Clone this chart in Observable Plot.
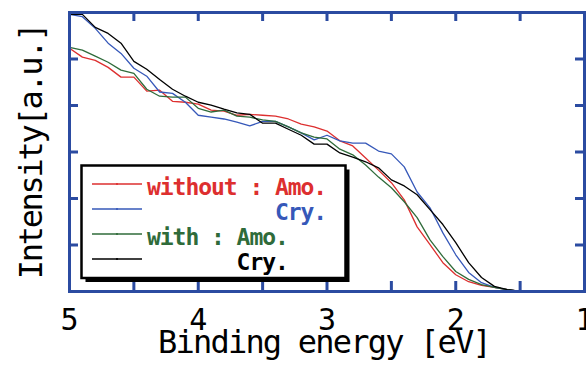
<!DOCTYPE html>
<html>
<head>
<meta charset="utf-8">
<script src="https://cdn.jsdelivr.net/npm/d3@7"></script>
<script src="https://cdn.jsdelivr.net/npm/@observablehq/plot@0.6"></script>
<style>
html, body { margin: 0; padding: 0; background: #fff; }
#wrap { position: relative; width: 586px; height: 365px; overflow: hidden; }
#wrap svg.overlay { position: absolute; left: 0; top: 0; pointer-events: none; }
</style>
</head>
<body>
<div id="wrap"></div>
<script>
// Binding energy grid [eV]
const energy = [5.0, 4.9, 4.8, 4.7, 4.6, 4.5, 4.4, 4.3, 4.2, 4.1,
                4.0, 3.9, 3.8, 3.7, 3.6, 3.5, 3.4, 3.3, 3.2, 3.1,
                3.0, 2.9, 2.8, 2.7, 2.6, 2.5, 2.4, 2.3, 2.2, 2.1,
                2.0, 1.9, 1.8, 1.7, 1.6, 1.5, 1.4, 1.3, 1.2, 1.1, 1.0];

// Intensity [a.u.]
const withoutAmo = [5.23, 5.04, 4.97, 4.82, 4.61, 4.61, 4.31, 4.33, 4.09, 4.07,
                    4.03, 3.90, 3.88, 3.79, 3.81, 3.79, 3.77, 3.71, 3.60, 3.54,
                    3.45, 3.24, 3.13, 2.87, 2.61, 2.34, 1.97, 1.39, 1.01, 0.62,
                    0.36, 0.21, 0.13, 0.09, 0.04, 0, 0, 0, 0, 0, 0];
const withoutCry = [5.96, 5.91, 5.66, 5.34, 5.12, 4.80, 4.63, 4.29, 4.26, 4.07,
                    3.79, 3.75, 3.71, 3.64, 3.56, 3.66, 3.66, 3.54, 3.41, 3.26,
                    3.36, 3.24, 3.19, 3.19, 3.02, 2.96, 2.68, 2.14, 1.80, 1.26,
                    0.79, 0.41, 0.19, 0.09, 0.04, 0, 0, 0, 0, 0, 0];
const withAmo    = [5.25, 5.19, 5.06, 4.93, 4.76, 4.69, 4.35, 4.20, 4.18, 4.18,
                    3.94, 3.86, 3.90, 3.77, 3.75, 3.69, 3.66, 3.54, 3.41, 3.32,
                    3.28, 3.06, 2.94, 2.72, 2.46, 2.23, 1.93, 1.59, 1.11, 0.75,
                    0.43, 0.26, 0.15, 0.09, 0.04, 0, 0, 0, 0, 0, 0];
const withCry    = [5.96, 5.96, 5.68, 5.55, 5.34, 4.95, 4.78, 4.56, 4.35, 4.20,
                    4.07, 4.01, 3.92, 3.84, 3.81, 3.62, 3.62, 3.49, 3.36, 3.17,
                    3.17, 2.98, 2.89, 2.79, 2.66, 2.40, 2.27, 2.08, 1.76, 1.44,
                    1.05, 0.62, 0.30, 0.11, 0.04, 0, 0, 0, 0, 0, 0];

const seriesNames = ["without : Amo.", "without : Cry.", "with : Amo.", "with : Cry."];
const seriesValues = [withoutAmo, withoutCry, withAmo, withCry];
const seriesColors = ["#dd2f2f", "#3658b9", "#2f6b3a", "#000000"];

// legend text lines (monospaced, aligned with spaces)
const legendLabels = ["without : Amo.", "          Cry.", "with : Amo.", "       Cry."];

// tick labels
const xTickLabels = [5, 4, 3, 2, 1];
const xMinorTicks = [5, 4.5, 4, 3.5, 3, 2.5, 2, 1.5, 1];
const yTicks = [1, 2, 3, 4, 5];

const xTitle = "Binding energy [eV]";
const yTitle = "Intensity[a.u.]";

const frameBlue = "#2b4ba1";
const W = 586, H = 365, mL = 69, mR = 2, mT = 12, mB = 74;

const rows = [];
seriesNames.forEach((name, si) => {
  energy.forEach((e, i) => rows.push({energy: e, intensity: seriesValues[si][i], series: name}));
});

const plot = Plot.plot({
  width: W,
  height: H,
  marginLeft: mL,
  marginRight: mR,
  marginTop: mT,
  marginBottom: mB,
  style: {fontFamily: "'DejaVu Sans Mono', monospace", background: "white", color: "black", overflow: "hidden"},
  x: {domain: [5, 1]},
  y: {domain: [0, 6]},
  color: {domain: seriesNames, range: seriesColors},
  marks: [
    Plot.line(rows, {x: "energy", y: "intensity", z: "series", stroke: "series", strokeWidth: 1.3}),
    Plot.frame({stroke: frameBlue, strokeWidth: 3}),
    // inward ticks on left and right
    Plot.axisY({anchor: "left", ticks: yTicks, tickSize: -9, tickFormat: () => "", stroke: frameBlue, strokeWidth: 3, label: null}),
    Plot.axisY({anchor: "right", ticks: yTicks, tickSize: -10, tickFormat: () => "", stroke: frameBlue, strokeWidth: 3, label: null}),
    // tick labels and titles
    Plot.axisX({anchor: "bottom", ticks: xTickLabels, tickSize: 0, tickPadding: 38, lineAnchor: "bottom", fontSize: 30, tickFormat: d => String(d), label: null}),
    Plot.text([xTitle], {frameAnchor: "bottom", textAnchor: "middle", dy: 61, dx: -3, lineAnchor: "bottom", fontSize: 32, fill: "black"}),
    Plot.text([yTitle], {frameAnchor: "left", textAnchor: "middle", dx: -28, rotate: -90, lineAnchor: "bottom", fontSize: 32, fill: "black"})
  ]
});

// condense the monospaced titles a little
d3.select(plot).selectAll("text").each(function () {
  if (this.textContent === xTitle) d3.select(this).style("letter-spacing", "-1.8px");
  if (this.textContent === yTitle) d3.select(this).style("letter-spacing", "-2.3px");
});

const wrap = document.getElementById("wrap");
wrap.appendChild(plot);

// Overlay: inward x ticks (positioned with Plot's own x/y scales) and the legend box
const ov = d3.select(wrap).append("svg")
  .attr("class", "overlay")
  .attr("width", W).attr("height", H);

const xs = plot.scale("x");
const ys = plot.scale("y");
const yTop = ys.apply(6), yBot = ys.apply(0);
xMinorTicks.forEach(v => {
  const px = xs.apply(v) + 0.5;
  ov.append("line").attr("x1", px).attr("x2", px).attr("y1", yTop).attr("y2", yTop + 9)
    .attr("stroke", frameBlue).attr("stroke-width", 3);
  ov.append("line").attr("x1", px).attr("x2", px).attr("y1", yBot - 10).attr("y2", yBot)
    .attr("stroke", frameBlue).attr("stroke-width", 3);
});

const box = {x: 81.5, y: 165.5, w: 264, h: 112.5, shadow: 4};
ov.append("rect").attr("x", box.x + box.shadow).attr("y", box.y + box.shadow)
  .attr("width", box.w).attr("height", box.h).attr("fill", "black");
ov.append("rect").attr("x", box.x).attr("y", box.y)
  .attr("width", box.w).attr("height", box.h)
  .attr("fill", "white").attr("stroke", "black").attr("stroke-width", 2.5);

legendLabels.forEach((lab, i) => {
  const ly = 184 + i * 25;
  ov.append("line").attr("x1", 92).attr("x2", 142).attr("y1", ly).attr("y2", ly)
    .attr("stroke", seriesColors[i]).attr("stroke-width", 1.4);
  ov.append("circle").attr("cx", 117).attr("cy", ly).attr("r", 1.1).attr("fill", seriesColors[i]);
  ov.append("text").attr("x", 147).attr("y", ly + 10.5)
    .attr("fill", seriesColors[i])
    .style("font-family", "'DejaVu Sans Mono', monospace")
    .style("font-weight", "bold")
    .style("font-size", "23px")
    .style("letter-spacing", "-1.05px")
    .style("white-space", "pre")
    .text(lab);
});
</script>
</body>
</html>
